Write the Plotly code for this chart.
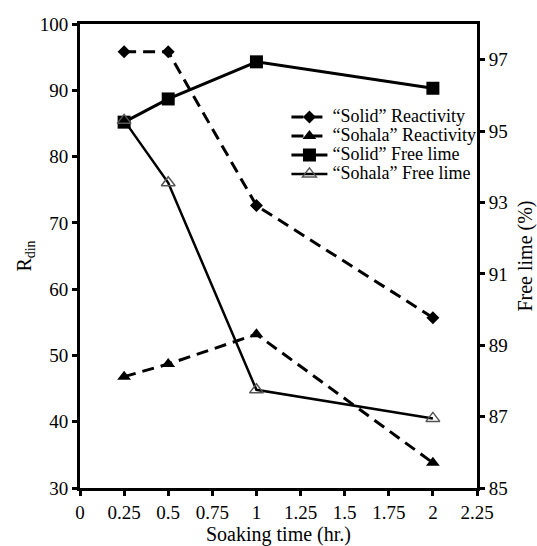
import plotly.graph_objects as go

soak_time = [0.25, 0.5, 1, 2]
solid_reactivity = [95.8, 95.8, 72.6, 55.7]
sohala_reactivity = [46.8, 48.7, 53.2, 33.8]
solid_free_lime = [95.25, 95.9, 96.94, 96.2]
sohala_free_lime = [95.3, 93.55, 87.75, 86.95]
series_names = ["\u201cSolid\u201d Reactivity", "\u201cSohala\u201d Reactivity",
                "\u201cSolid\u201d Free lime", "\u201cSohala\u201d Free lime"]

x_ticks = [0, 0.25, 0.5, 0.75, 1, 1.25, 1.5, 1.75, 2, 2.25]
x_tick_labels = ["0", "0.25", "0.5", "0.75", "1", "1.25", "1.5", "1.75", "2", "2.25"]
y_ticks = [30, 40, 50, 60, 70, 80, 90, 100]
y2_ticks = [85, 87, 89, 91, 93, 95, 97]

FONT = "Liberation Serif"
dash = "12px,7px"
tick_font = dict(family=FONT, size=19, color="black")
title_font = dict(family=FONT, size=20, color="black")


def legend_name(s):
    return '<span style="font-size:18px">' + s + '</span>'


fig = go.Figure()
fig.add_trace(go.Scatter(x=soak_time, y=solid_reactivity, name=legend_name(series_names[0]),
                         mode="lines+markers", line=dict(color="black", width=3, dash=dash),
                         marker=dict(symbol="diamond", size=10, color="black")))
fig.add_trace(go.Scatter(x=soak_time, y=sohala_reactivity, name=legend_name(series_names[1]),
                         mode="lines+markers", line=dict(color="black", width=3, dash=dash),
                         marker=dict(symbol="triangle-up", size=12, color="black")))
fig.add_trace(go.Scatter(x=soak_time, y=solid_free_lime, name=legend_name(series_names[2]),
                         mode="lines+markers", line=dict(color="black", width=3),
                         marker=dict(symbol="square", size=13, color="black"), yaxis="y2"))
fig.add_trace(go.Scatter(x=soak_time, y=sohala_free_lime, name=legend_name(series_names[3]),
                         mode="lines+markers", line=dict(color="black", width=2.5),
                         marker=dict(symbol="triangle-up-open", size=12, color="#555555",
                                     line=dict(width=1.5)), yaxis="y2"))

fig.update_layout(
    width=537, height=546,
    margin=dict(l=80, r=60, t=24, b=58, autoexpand=False),
    paper_bgcolor="white", plot_bgcolor="white",
    font=dict(family=FONT, size=19, color="black"),
    showlegend=True,
    legend=dict(x=0.52, y=0.831, xanchor="left", yanchor="top",
                bgcolor="rgba(0,0,0,0)", font=dict(size=12, family=FONT, color="black"),
                tracegroupgap=0, itemwidth=36),
    xaxis=dict(range=[0, 2.25], tickvals=x_ticks, ticktext=x_tick_labels,
               showline=True, linecolor="black", linewidth=3, mirror=True,
               ticks="outside", ticklen=5, tickwidth=3, tickcolor="black",
               showgrid=False, zeroline=False, automargin=False, tickfont=tick_font,
               title=dict(text="Soaking time (hr.)", standoff=4, font=title_font)),
    yaxis=dict(range=[30, 100], tickvals=y_ticks,
               showline=True, linecolor="black", linewidth=3,
               ticks="outside", ticklen=5, tickwidth=3, tickcolor="black",
               showgrid=False, zeroline=False, automargin=False, tickfont=tick_font,
               title=dict(text="R<sub>din</sub>", standoff=3, font=title_font)),
    yaxis2=dict(range=[85, 98], tickvals=y2_ticks, overlaying="y", side="right",
                showline=True, linecolor="black", linewidth=3,
                ticks="outside", ticklen=5, tickwidth=3, tickcolor="black",
                showgrid=False, zeroline=False, automargin=False, tickfont=tick_font,
                title=dict(text="Free lime (%)", standoff=14, font=title_font)),
)

fig.write_html("out.html", config={"displayModeBar": False},
               post_script="document.body.style.margin='0';document.body.style.overflow='hidden';")
